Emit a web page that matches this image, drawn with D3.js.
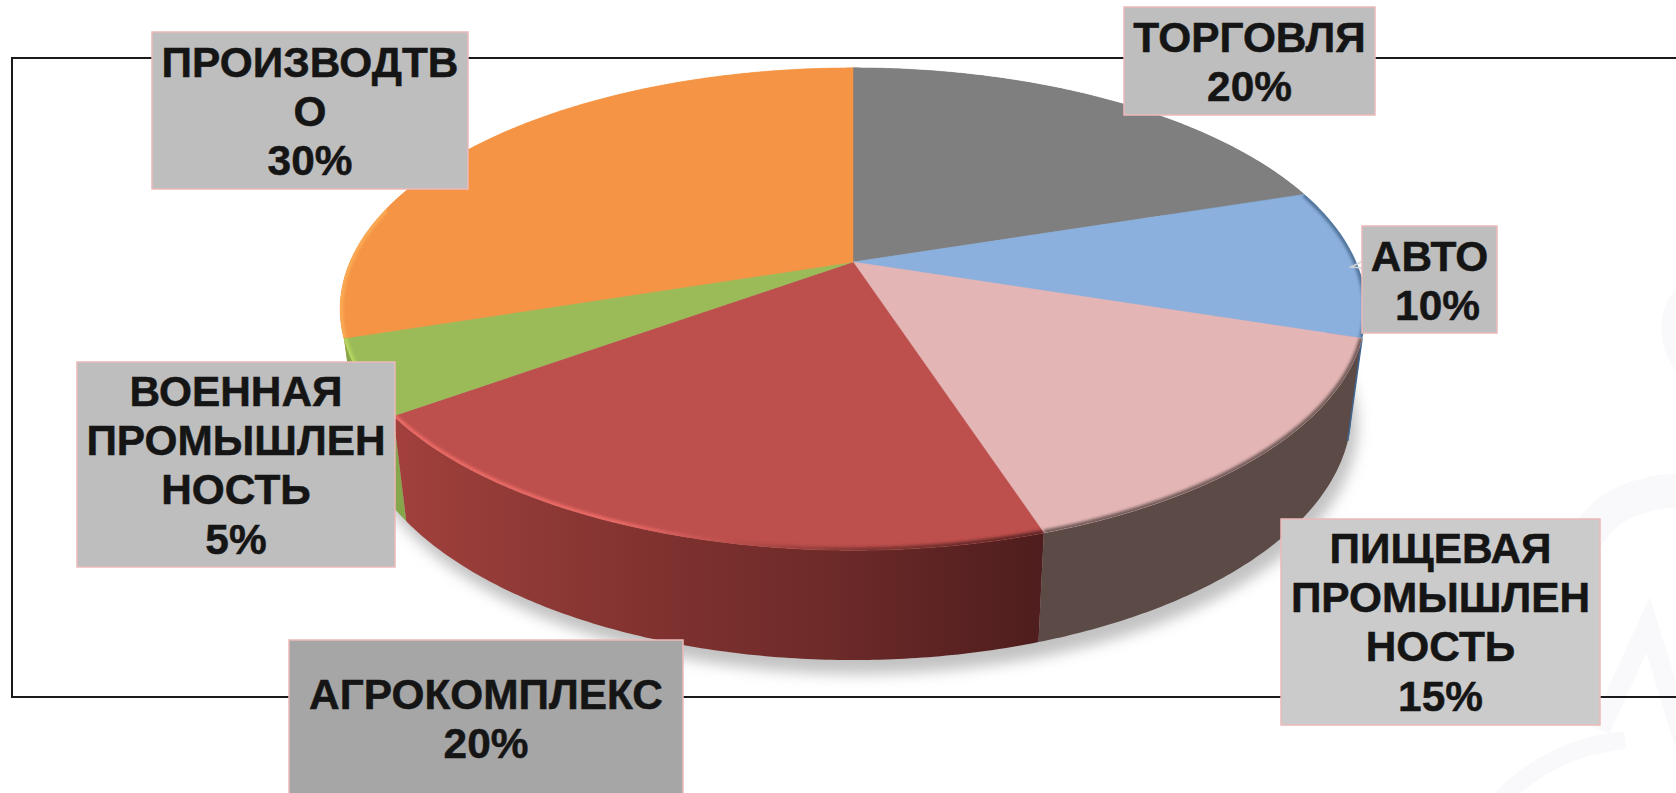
<!DOCTYPE html>
<html>
<head>
<meta charset="utf-8">
<script src="https://cdn.jsdelivr.net/npm/d3@7"></script>
<style>
  html, body { margin: 0; padding: 0; background: #fff; overflow: hidden; }
  svg { display: block; }
</style>
</head>
<body>
<div id="my_dataviz"></div>
<script>
// Chart values
const categories = ["ТОРГОВЛЯ", "АВТО", "ПИЩЕВАЯ ПРОМЫШЛЕННОСТЬ", "АГРОКОМПЛЕКС", "ВОЕННАЯ ПРОМЫШЛЕННОСТЬ", "ПРОИЗВОДТВО"];
const shares = [20, 10, 15, 20, 5, 30];
const labelLines = [
  ["ТОРГОВЛЯ"],
  ["АВТО"],
  ["ПИЩЕВАЯ", "ПРОМЫШЛЕН", "НОСТЬ"],
  ["АГРОКОМПЛЕКС"],
  ["ВОЕННАЯ", "ПРОМЫШЛЕН", "НОСТЬ"],
  ["ПРОИЗВОДТВ", "О"]
];

// Colours, same order as categories
const topColors = ["#7f7f7f", "#8bb0de", "#e4b5b5", "#bd4f4c", "#9bbb59", "#f49444"];
const wallColors = ["#6a6a6a", "#3f6690", "#5c4a47", "url(#redWall)", "#85a64a", "#f6a24c"];
const rimColors = [null, "#4f7296", "#6f5a58", "url(#redRim)", "#b7d862", "#fbab55"];
const boxColors = ["#bebebe", "#bebebe", "#cbcbcb", "#a6a6a6", "#bebebe", "#bebebe"];

// Label boxes: x0, x1, y0, y1, then the baseline of the first line
const labelBoxes = [
  {x0: 1124, x1: 1375, y0: 7, y1: 115, base: 52},
  {x0: 1362, x1: 1497, y0: 226, y1: 333, base: 271, percentDx: 8},
  {x0: 1281, x1: 1600, y0: 519, y1: 725, base: 563},
  {x0: 289, x1: 683, y0: 640, y1: 800, base: 709},
  {x0: 77, x1: 395, y0: 362, y1: 567, base: 406},
  {x0: 152, x1: 468, y0: 32, y1: 189, base: 77}
];

const width = 1676, height = 793;

// Perspective of the pie disc
const apex = {x: 853, y: 262};
const discR = 503, discB = 232, tilt = 0.195;
const wallShrinkX = 0.972, wallStretchY = 1.034, wallDrop = 100;

function topPoint(a) {
  const u = Math.sin(a), v = -Math.cos(a), w = 1 - tilt * v;
  return [apex.x + discR * u / w, apex.y + discB * v / w];
}
function bottomPoint(a) {
  const p = topPoint(a);
  return [apex.x + (p[0] - apex.x) * wallShrinkX, apex.y + (p[1] - apex.y) * wallStretchY + wallDrop];
}
function samples(a0, a1) {
  const n = Math.max(2, Math.ceil((a1 - a0) / 0.01));
  return d3.range(n + 1).map(i => a0 + (a1 - a0) * i / n);
}

const svg = d3.select("#my_dataviz").append("svg")
    .attr("width", width)
    .attr("height", height);

const defs = svg.append("defs");

function blurFilter(id, dev) {
  defs.append("filter")
      .attr("id", id)
      .attr("filterUnits", "userSpaceOnUse")
      .attr("x", 0).attr("y", 0)
      .attr("width", width).attr("height", height)
    .append("feGaussianBlur")
      .attr("stdDeviation", dev);
}
blurFilter("shadowBlur", 7);
blurFilter("rimBlur", 1.6);

function xGradient(id, stops) {
  const g = defs.append("linearGradient")
      .attr("id", id)
      .attr("gradientUnits", "userSpaceOnUse")
      .attr("x1", 395).attr("x2", 1045)
      .attr("y1", 0).attr("y2", 0);
  stops.forEach(s => g.append("stop").attr("offset", s[0]).attr("stop-color", s[1]));
}
xGradient("redWall", [[0, "#a2403c"], [0.22, "#8e3936"], [0.4, "#80322f"], [0.68, "#6c2a29"], [1, "#4e1d1d"]]);
xGradient("redRim", [[0, "#ec6a66"], [0.35, "#ea6a66"], [0.55, "#b04a47"], [0.72, "#7f3431"], [1, "#5a2424"]]);

const line = d3.line();

// Faint watermark at the right edge
const watermark = svg.append("g")
    .attr("fill", "none")
    .attr("stroke", "#f9f9fb");
watermark.append("path").attr("stroke-width", 34)
    .attr("d", "M1583,545 C1600,505 1640,490 1690,490");
watermark.append("path").attr("stroke-width", 22)
    .attr("d", "M1690,290 C1665,310 1668,350 1690,370");
watermark.append("path").attr("stroke-width", 20)
    .attr("d", "M1600,730 L1648,625 L1690,760");
watermark.append("path").attr("stroke-width", 18)
    .attr("d", "M1500,800 C1540,760 1580,745 1625,740");

// Frame, runs off the right side
svg.append("rect")
    .attr("x", 12).attr("y", 58)
    .attr("width", 1700).attr("height", 639)
    .attr("fill", "none")
    .attr("stroke", "#1a1a1a")
    .attr("stroke-width", 2);

// Slices
const pie = d3.pie().sort(null).startAngle(0).endAngle(2 * Math.PI);
const arcs = pie(shares).map((d, i) => ({
  a0: d.startAngle, a1: d.endAngle, i: i, mid: (d.startAngle + d.endAngle) / 2
}));

// Soft shadow under the pie
svg.append("path")
    .attr("d", line(samples(0, 2 * Math.PI).map(bottomPoint)) + "Z")
    .attr("transform", "translate(6,14)")
    .attr("fill", "#c2c2c2")
    .attr("filter", "url(#shadowBlur)");

// Side walls, back ones first
const walls = arcs.slice().sort((p, q) => Math.abs(q.mid - Math.PI) - Math.abs(p.mid - Math.PI));
svg.append("g").selectAll("path")
  .data(walls)
  .join("path")
    .attr("d", d => {
      const s = samples(d.a0, d.a1);
      return line(s.map(topPoint).concat(s.reverse().map(bottomPoint))) + "Z";
    })
    .attr("fill", d => wallColors[d.i]);

// Thin blue edge where the АВТО wall ends
const blueEnd = arcs[1].a1;
svg.append("path")
    .attr("d", line([topPoint(blueEnd), bottomPoint(blueEnd)]))
    .attr("fill", "none")
    .attr("stroke", "#3f6690")
    .attr("stroke-width", 1.5);

// Top face
svg.append("g").selectAll("path")
  .data(arcs)
  .join("path")
    .attr("d", d => line([[apex.x, apex.y]].concat(samples(d.a0, d.a1).map(topPoint))) + "Z")
    .attr("fill", d => topColors[d.i])
    .attr("stroke", d => topColors[d.i])
    .attr("stroke-width", 0.5);

// Bevel along the front rim, clipped to the slice it belongs to
arcs.forEach(d => {
  defs.append("clipPath").attr("id", "faceClip" + d.i)
    .append("path")
      .attr("d", line([[apex.x, apex.y]].concat(samples(d.a0, d.a1).map(topPoint))) + "Z");
});
const rimData = arcs.filter(d => rimColors[d.i]);
svg.append("g").selectAll("g")
  .data(rimData)
  .join("g")
    .attr("clip-path", d => `url(#faceClip${d.i})`)
  .append("path")
    .attr("d", d => line(samples(d.a0, Math.min(d.a1, 4.95)).map(topPoint)))
    .attr("fill", "none")
    .attr("stroke", d => rimColors[d.i])
    .attr("stroke-width", 6)
    .attr("filter", "url(#rimBlur)");

// Small stray arrow left of the АВТО box
svg.append("path")
    .attr("d", "M1361,262 L1351,267 L1362,268")
    .attr("fill", "none")
    .attr("stroke", "#d3d6da")
    .attr("stroke-width", 1.5);

// Labels
const labels = svg.append("g").selectAll("g")
  .data(arcs)
  .join("g");

labels.append("rect")
    .attr("x", d => labelBoxes[d.i].x0)
    .attr("y", d => labelBoxes[d.i].y0)
    .attr("width", d => labelBoxes[d.i].x1 - labelBoxes[d.i].x0)
    .attr("height", d => labelBoxes[d.i].y1 - labelBoxes[d.i].y0)
    .attr("fill", d => boxColors[d.i])
    .attr("stroke", "#ecb9b9")
    .attr("stroke-width", 1.5);

labels.each(function(d) {
  const box = labelBoxes[d.i];
  const cx = (box.x0 + box.x1) / 2;
  const rows = labelLines[d.i].concat([shares[d.i] + "%"]);
  d3.select(this).selectAll("text")
    .data(rows)
    .join("text")
      .attr("x", (r, k) => cx + (k === rows.length - 1 && box.percentDx ? box.percentDx : 0))
      .attr("y", (r, k) => box.base + k * 49.2)
      .attr("text-anchor", "middle")
      .style("font-family", "'Liberation Sans', Arial, sans-serif")
      .style("font-weight", "bold")
      .style("font-size", "42.4px")
      .style("fill", "#151515")
      .style("stroke", "#151515")
      .style("stroke-width", 0.5)
      .text(r => r);
});
</script>
</body>
</html>
